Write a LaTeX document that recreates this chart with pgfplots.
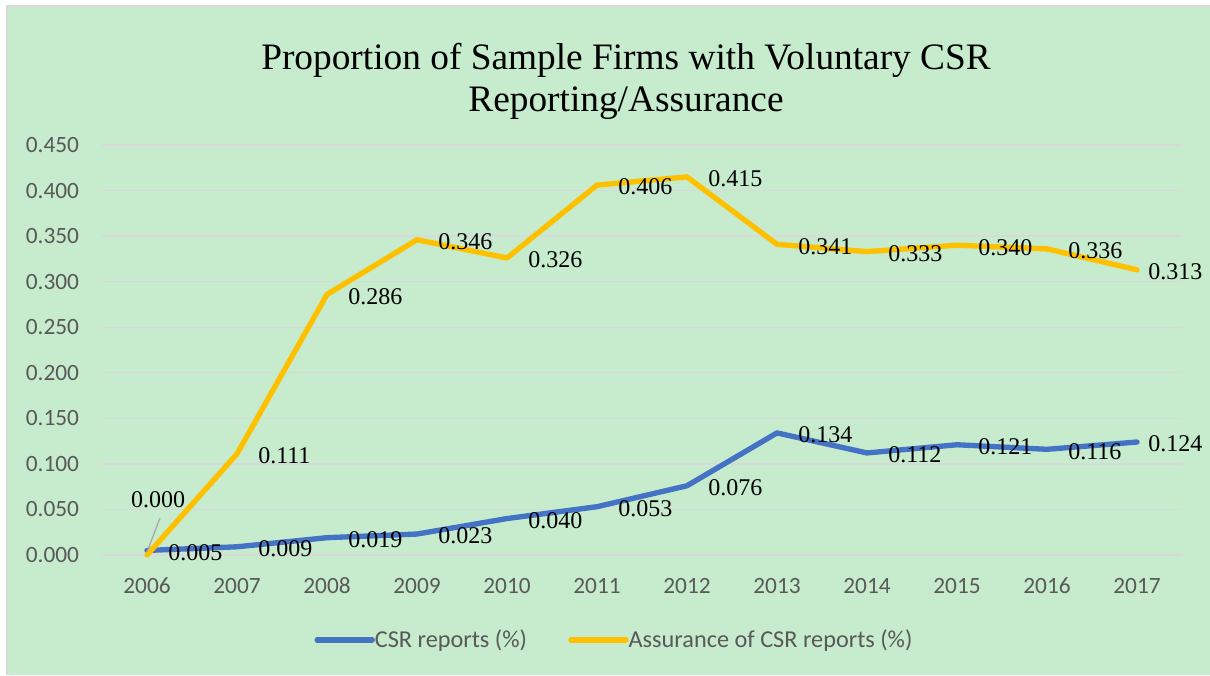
\documentclass[border=0pt]{standalone}
\usepackage{pgfplots}
\pgfplotsset{compat=1.18}
\usepackage{pgfplotstable}
\usepackage{fontspec}
\setmainfont{Liberation Serif}
\newfontfamily\calibri{Carlito}
\definecolor{bg}{RGB}{198,235,205}
\definecolor{csr}{RGB}{68,114,196}
\definecolor{ass}{RGB}{255,192,0}
\definecolor{gridc}{RGB}{217,217,217}
\definecolor{tickc}{RGB}{89,89,89}
\definecolor{leader}{RGB}{166,166,166}

\pgfplotstableread{
year csr assur
2006 0.005 0.000
2007 0.009 0.111
2008 0.019 0.286
2009 0.023 0.346
2010 0.040 0.326
2011 0.053 0.406
2012 0.076 0.415
2013 0.134 0.341
2014 0.112 0.333
2015 0.121 0.340
2016 0.116 0.336
2017 0.124 0.313
}\data

\begin{document}
\begin{tikzpicture}
\useasboundingbox (0,0) rectangle (907.5pt,506.25pt);
\fill[white] (0,0) rectangle (907.5pt,506.25pt);
\fill[bg] (5.25pt,0) rectangle (907.5pt,501.75pt);
\draw[gridc, line width=1pt] (5.25pt,0) -- (5.25pt,501.75pt) -- (907.5pt,501.75pt);
\node[font=\fontsize{28}{30}\selectfont, anchor=base, inner sep=0pt] at (469.5pt,454pt) {Proportion of Sample Firms with Voluntary CSR};
\node[font=\fontsize{28}{30}\selectfont, anchor=base, inner sep=0pt] at (469.5pt,422.5pt) {Reporting/Assurance};
\begin{axis}[
  at={(76.5pt,90pt)}, anchor=south west,
  scale only axis, width=810pt, height=307.5pt,
  xmin=2005.5, xmax=2017.5, ymin=0, ymax=0.45,
  xtick={2006,2007,2008,2009,2010,2011,2012,2013,2014,2015,2016,2017},
  xticklabels={2006,2007,2008,2009,2010,2011,2012,2013,2014,2015,2016,2017},
  ytick={0,0.05,0.1,0.15,0.2,0.25,0.3,0.35,0.4,0.45},
  yticklabels={0.000,0.050,0.100,0.150,0.200,0.250,0.300,0.350,0.400,0.450},
  tick label style={font=\calibri\fontsize{17.5}{20}\selectfont, text=tickc, inner sep=0pt},
  yticklabel style={anchor=east, xshift=-17pt},
  xticklabel style={anchor=north, yshift=-17pt},
  axis line style={draw=none},
  major tick style={draw=none},
  ymajorgrids, grid style={gridc, line width=1pt},
  clip=false,
  legend style={at={(0.4736,-0.2073)}, anchor=center, draw=none, fill=none,
    font=\calibri\fontsize{18.2}{20}\selectfont, text=tickc,
    /tikz/every even column/.append style={column sep=31pt},
    /tikz/every odd column/.append style={column sep=0pt},
    nodes={inner sep=0pt}},
  legend columns=2,
  legend image code/.code={\draw[#1, line cap=round] (0pt,0pt) -- (41.25pt,0pt);},
  nodes near coords align=horizontal,
]
\addplot[csr, line width=4pt, line join=round, line cap=round, mark=none] table[x=year,y=csr] {\data};
\addlegendentry{CSR reports (\%)}
\addplot[ass, line width=4pt, line join=round, line cap=round, mark=none] table[x=year,y=assur] {\data};
\addlegendentry{Assurance of CSR reports (\%)}
% data labels
\addplot[draw=none, mark=none, forget plot, point meta=explicit symbolic,
  skip coords between index={11}{12},
  nodes near coords,
  nodes near coords style={anchor=west, inner sep=0pt, xshift=15.75pt, yshift=-1.5pt, font=\fontsize{18}{20}\selectfont, text=black}]
  table[x=year,y=csr,meta=csr] {\data};
\addplot[draw=none, mark=none, forget plot, point meta=explicit symbolic,
  skip coords between index={0}{11},
  nodes near coords,
  nodes near coords style={anchor=west, inner sep=0pt, xshift=8.25pt, yshift=-1.5pt, font=\fontsize{18}{20}\selectfont, text=black}]
  table[x=year,y=csr,meta=csr] {\data};
\addplot[draw=none, mark=none, forget plot, point meta=explicit symbolic,
  skip coords between index={0}{1}, skip coords between index={11}{12},
  nodes near coords,
  nodes near coords style={anchor=west, inner sep=0pt, xshift=15.75pt, yshift=-1.5pt, font=\fontsize{18}{20}\selectfont, text=black}]
  table[x=year,y=assur,meta=assur] {\data};
\addplot[draw=none, mark=none, forget plot, point meta=explicit symbolic,
  skip coords between index={0}{11},
  nodes near coords,
  nodes near coords style={anchor=west, inner sep=0pt, xshift=8.25pt, yshift=-1.5pt, font=\fontsize{18}{20}\selectfont, text=black}]
  table[x=year,y=assur,meta=assur] {\data};
\addplot[draw=none, mark=none, forget plot, point meta=explicit symbolic,
  skip coords between index={1}{12},
  nodes near coords,
  nodes near coords style={anchor=center, inner sep=0pt, xshift=8.25pt, yshift=41.25pt, font=\fontsize{18}{20}\selectfont, text=black}]
  table[x=year,y=assur,meta=assur] {\data};
\draw[leader, line width=0.9pt] ([shift={(0pt,2.25pt)}]axis cs:2006,0) -- ([shift={(9.75pt,27.75pt)}]axis cs:2006,0);
\end{axis}
\end{tikzpicture}
\end{document}
